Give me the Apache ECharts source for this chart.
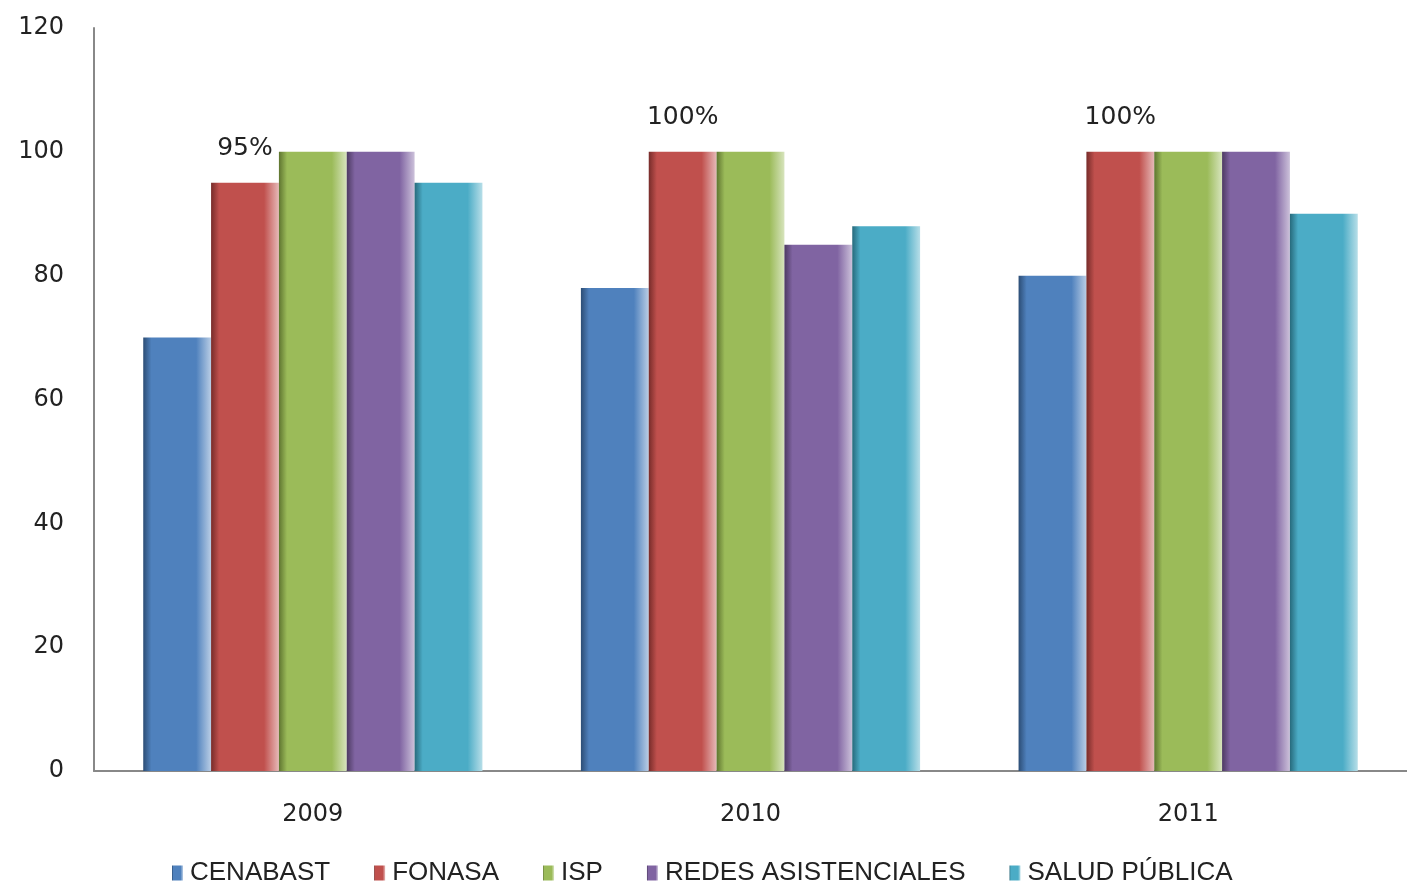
<!DOCTYPE html>
<html>
<head>
<meta charset="utf-8">
<script src="https://cdn.jsdelivr.net/npm/echarts@6/dist/echarts.min.js"></script>
<style>
  html, body { margin: 0; padding: 0; background: #fff; }
  #main { width: 1407px; height: 882px; }
</style>
</head>
<body>
<div id="main"></div>
<script>
  var years = ['2009', '2010', '2011'];
  var seriesNames = ['CENABAST', 'FONASA', 'ISP', 'REDES ASISTENCIALES', 'SALUD PÚBLICA'];
  var cenabast = [70, 78, 80];
  var fonasa = [95, 100, 100];
  var isp = [100, 100, 100];
  var redes = [100, 85, 100];
  var salud = [95, 88, 90];
  var fonasaLabels = ['95%', '100%', '100%'];
  var yTicks = [0, 20, 40, 60, 80, 100, 120];

  var colors = [
    { base: '#4f81bd', dark: '#2c4d75', light: '#b9cde5' },
    { base: '#c0504d', dark: '#772c2a', light: '#e6b9b8' },
    { base: '#9bbb59', dark: '#5f7530', light: '#d7e4bd' },
    { base: '#8064a2', dark: '#4d3b62', light: '#ccc1da' },
    { base: '#4bacc6', dark: '#276a7c', light: '#b7dee8' }
  ];

  function bevel(c) {
    return new echarts.graphic.LinearGradient(0, 0, 1, 0, [
      { offset: 0, color: c.dark },
      { offset: 0.12, color: c.base },
      { offset: 0.78, color: c.base },
      { offset: 1, color: c.light }
    ]);
  }

  var chart = echarts.init(document.getElementById('main'));
  var data = [cenabast, fonasa, isp, redes, salud];

  var series = data.map(function (vals, i) {
    var s = {
      name: seriesNames[i],
      type: 'bar',
      barGap: '0%',
      barCategoryGap: '22.5%',
      itemStyle: { color: bevel(colors[i]) },
      data: vals
    };
    if (i === 1) {
      s.label = {
        show: true,
        position: 'top',
        distance: 22,
        fontFamily: 'DejaVu Sans',
        fontSize: 25,
        color: '#222',
        formatter: function (p) { return fonasaLabels[p.dataIndex]; }
      };
    }
    return s;
  });

  var option = {
    animation: false,
    grid: { left: 94, right: -6, top: 28, bottom: 111 },
    legend: {
      top: 855,
      left: 167,
      itemWidth: 11,
      itemHeight: 15,
      itemGap: 44,
      icon: 'rect',
      textStyle: { fontFamily: 'Liberation Sans', fontSize: 26, color: '#222', padding: [0, 0, 0, 2] },
      data: seriesNames.map(function (n, i) {
        return { name: n, itemStyle: { color: bevel(colors[i]) } };
      })
    },
    xAxis: {
      type: 'category',
      data: years,
      axisLine: { lineStyle: { color: '#888', width: 2 } },
      axisTick: { show: false },
      axisLabel: { fontFamily: 'DejaVu Sans', fontSize: 24, color: '#222', margin: 32 }
    },
    yAxis: {
      type: 'value',
      min: 0,
      max: 120,
      interval: 20,
      axisLine: { show: true, lineStyle: { color: '#888', width: 2 } },
      axisTick: { show: false },
      splitLine: { show: false },
      axisLabel: {
        fontFamily: 'DejaVu Sans', fontSize: 24, color: '#222', margin: 30,
        formatter: function (v) { return yTicks.indexOf(v) >= 0 ? String(v) : ''; }
      }
    },
    series: series
  };
  chart.setOption(option);
</script>
</body>
</html>
